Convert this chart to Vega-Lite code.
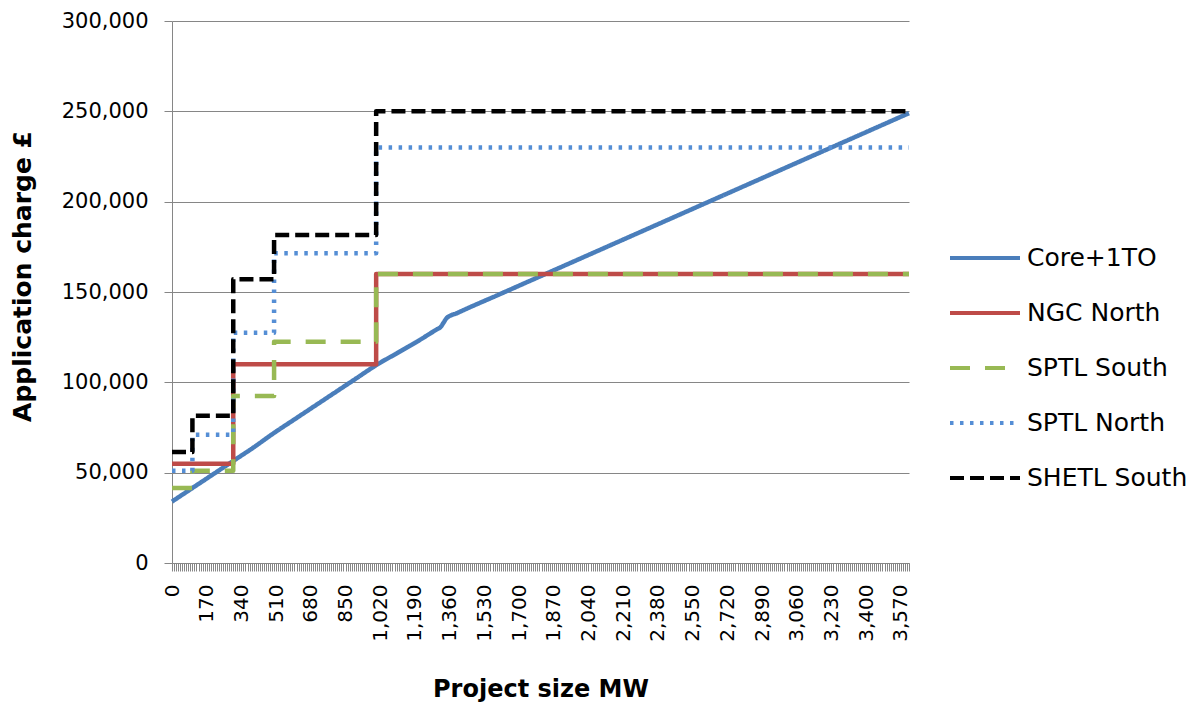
{
  "$schema": "https://vega.github.io/schema/vega-lite/v6.json",
  "width": 737,
  "height": 542,
  "autosize": {"type": "none"},
  "padding": {"left": 172, "top": 21, "right": 290, "bottom": 142},
  "background": "white",
  "config": {"font": "DejaVu Sans", "view": {"stroke": null}},
  "data": {
    "values": [
      {"series": "Core+1TO", "mw": 0, "charge": 34000},
      {"series": "Core+1TO", "mw": 100, "charge": 41500},
      {"series": "Core+1TO", "mw": 200, "charge": 49000},
      {"series": "Core+1TO", "mw": 300, "charge": 56500},
      {"series": "Core+1TO", "mw": 400, "charge": 64000},
      {"series": "Core+1TO", "mw": 500, "charge": 72000},
      {"series": "Core+1TO", "mw": 600, "charge": 79500},
      {"series": "Core+1TO", "mw": 700, "charge": 87000},
      {"series": "Core+1TO", "mw": 800, "charge": 94500},
      {"series": "Core+1TO", "mw": 900, "charge": 102000},
      {"series": "Core+1TO", "mw": 1000, "charge": 109500},
      {"series": "Core+1TO", "mw": 1100, "charge": 116000},
      {"series": "Core+1TO", "mw": 1200, "charge": 122500},
      {"series": "Core+1TO", "mw": 1300, "charge": 129500},
      {"series": "Core+1TO", "mw": 1315, "charge": 130500},
      {"series": "Core+1TO", "mw": 1330, "charge": 133000},
      {"series": "Core+1TO", "mw": 1345, "charge": 135500},
      {"series": "Core+1TO", "mw": 1400, "charge": 138500},
      {"series": "Core+1TO", "mw": 1600, "charge": 148500},
      {"series": "Core+1TO", "mw": 1800, "charge": 158500},
      {"series": "Core+1TO", "mw": 2000, "charge": 168500},
      {"series": "Core+1TO", "mw": 2200, "charge": 178500},
      {"series": "Core+1TO", "mw": 2400, "charge": 188500},
      {"series": "Core+1TO", "mw": 2600, "charge": 198500},
      {"series": "Core+1TO", "mw": 2800, "charge": 208500},
      {"series": "Core+1TO", "mw": 3000, "charge": 218500},
      {"series": "Core+1TO", "mw": 3200, "charge": 228500},
      {"series": "Core+1TO", "mw": 3400, "charge": 238500},
      {"series": "Core+1TO", "mw": 3610, "charge": 249000},
      {"series": "NGC North", "mw": 0, "charge": 55000},
      {"series": "NGC North", "mw": 300, "charge": 110000},
      {"series": "NGC North", "mw": 1000, "charge": 160000},
      {"series": "NGC North", "mw": 3610, "charge": 160000},
      {"series": "SPTL South", "mw": 0, "charge": 41500},
      {"series": "SPTL South", "mw": 100, "charge": 51000},
      {"series": "SPTL South", "mw": 300, "charge": 92500},
      {"series": "SPTL South", "mw": 500, "charge": 122500},
      {"series": "SPTL South", "mw": 1000, "charge": 160000},
      {"series": "SPTL South", "mw": 3610, "charge": 160000},
      {"series": "SPTL North", "mw": 0, "charge": 51000},
      {"series": "SPTL North", "mw": 100, "charge": 71000},
      {"series": "SPTL North", "mw": 300, "charge": 127500},
      {"series": "SPTL North", "mw": 500, "charge": 171500},
      {"series": "SPTL North", "mw": 1000, "charge": 230000},
      {"series": "SPTL North", "mw": 3610, "charge": 230000},
      {"series": "SHETL South", "mw": 0, "charge": 61500},
      {"series": "SHETL South", "mw": 100, "charge": 81500},
      {"series": "SHETL South", "mw": 300, "charge": 157000},
      {"series": "SHETL South", "mw": 500, "charge": 181500},
      {"series": "SHETL South", "mw": 1000, "charge": 250000},
      {"series": "SHETL South", "mw": 3610, "charge": 250000}
    ]
  },
  "encoding": {
    "x": {
      "field": "mw",
      "type": "quantitative",
      "scale": {"domain": [0, 3610], "nice": false, "zero": false},
      "axis": {
        "title": "Project size MW",
        "tickCount": 362,
        "labelExpr": "datum.value % 170 === 0 ? format(datum.value, ',d') : ''",
        "labelAngle": -90,
        "labelAlign": "right",
        "labelBaseline": "middle",
        "labelOverlap": false,
        "labelFlush": false,
        "labelBound": false,
        "labelFontSize": 20,
        "labelColor": "black",
        "labelPadding": 13,
        "tickSize": 8,
        "tickColor": "#868686",
        "domainColor": "#868686",
        "grid": false,
        "titleFontSize": 24,
        "titleFontWeight": "bold",
        "titleColor": "black",
        "titlePadding": 36
      }
    },
    "y": {
      "field": "charge",
      "type": "quantitative",
      "scale": {"domain": [0, 300000], "nice": false},
      "axis": {
        "title": "Application charge £",
        "values": [0, 50000, 100000, 150000, 200000, 250000, 300000],
        "format": ",d",
        "grid": true,
        "gridColor": "#868686",
        "tickColor": "#868686",
        "domainColor": "#868686",
        "tickSize": 8,
        "labelFontSize": 21,
        "labelColor": "black",
        "labelPadding": 16,
        "titleFontSize": 25,
        "titleFontWeight": "bold",
        "titleColor": "black",
        "titlePadding": 26,
        "titleY": 255
      }
    },
    "color": {
      "field": "series",
      "type": "nominal",
      "scale": {
        "domain": ["Core+1TO", "NGC North", "SPTL South", "SPTL North", "SHETL South"],
        "range": ["#4A7EBB", "#BE4B48", "#98B954", "#558ED5", "#000000"]
      },
      "legend": {
        "title": null,
        "orient": "none",
        "legendX": 776,
        "legendY": 200,
        "symbolType": "stroke",
        "symbolSize": 4900,
        "symbolStrokeWidth": 4,
        "labelFontSize": 25,
        "labelColor": "black",
        "labelOffset": 5,
        "labelLimit": 300,
        "rowPadding": 5
      }
    },
    "strokeDash": {
      "field": "series",
      "type": "nominal",
      "scale": {
        "domain": ["Core+1TO", "NGC North", "SPTL South", "SPTL North", "SHETL South"],
        "range": [[1, 0], [1, 0], [20, 15], [3.5, 6.5], [14, 6]]
      },
      "legend": {
        "title": null,
        "orient": "none",
        "legendX": 776,
        "legendY": 200,
        "symbolType": "stroke",
        "symbolSize": 4900,
        "symbolStrokeWidth": 4,
        "labelFontSize": 25,
        "labelColor": "black",
        "labelOffset": 5,
        "labelLimit": 300,
        "rowPadding": 5
      }
    }
  },
  "layer": [
    {
      "transform": [{"filter": "datum.series === 'Core+1TO'"}],
      "mark": {"type": "line", "strokeWidth": 4.5, "interpolate": "monotone", "strokeJoin": "round"}
    },
    {
      "transform": [{"filter": "datum.series !== 'Core+1TO'"}],
      "mark": {"type": "line", "strokeWidth": 4.5, "interpolate": "step-after", "strokeJoin": "round"}
    }
  ]
}
